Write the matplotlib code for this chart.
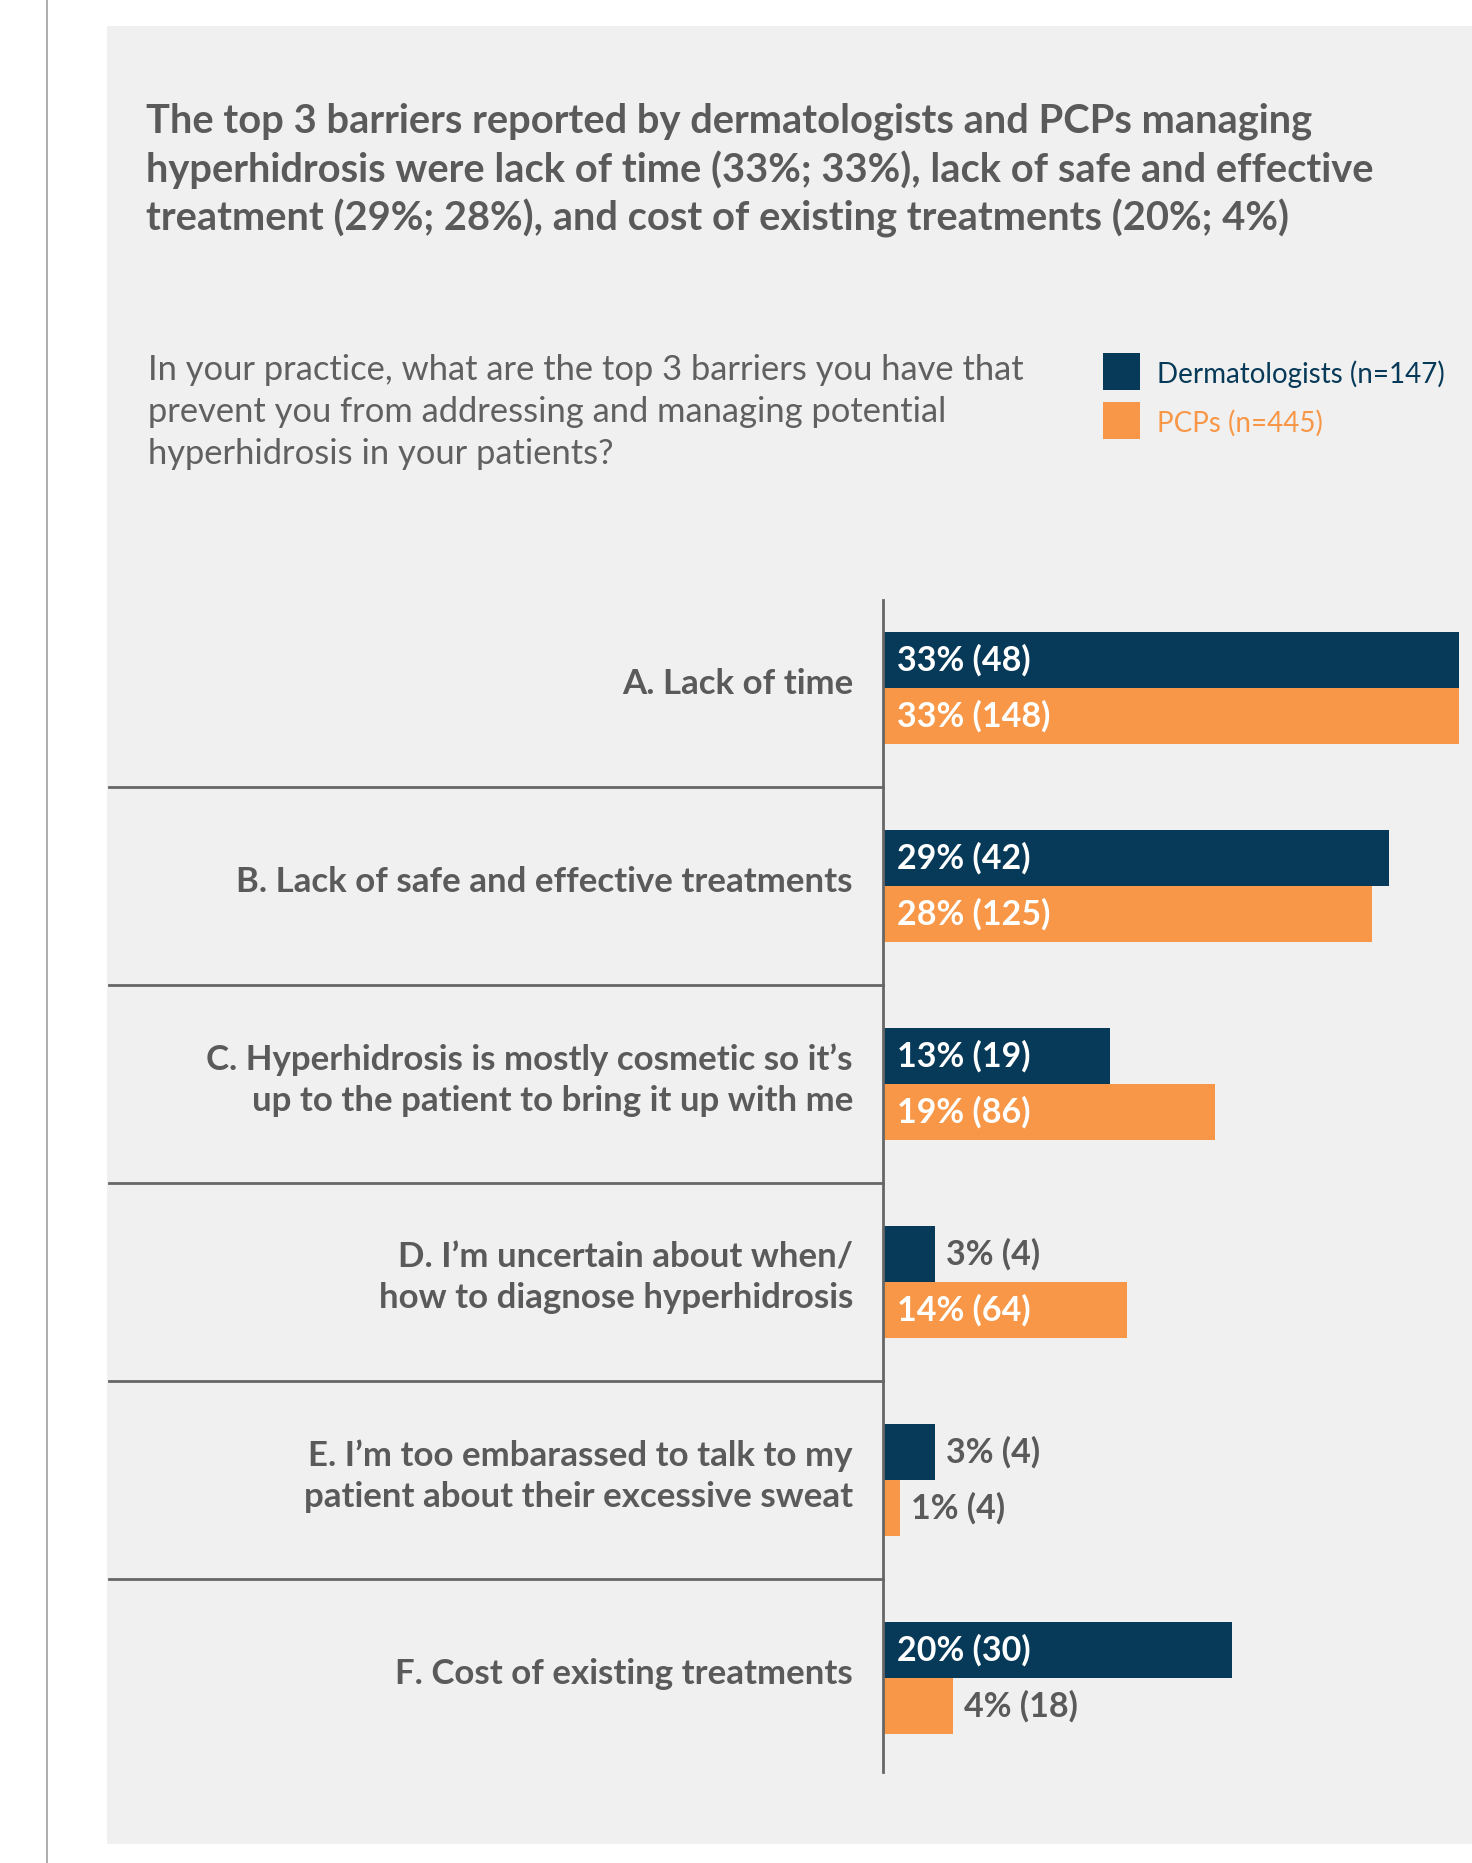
import matplotlib
matplotlib.use("Agg")
import matplotlib.pyplot as plt
from matplotlib.patches import Rectangle
import matplotlib.transforms as mtransforms

# ---- data ----
categories = [
    "A. Lack of time",
    "B. Lack of safe and effective treatments",
    "C. Hyperhidrosis is mostly cosmetic so it\u2019s\nup to the patient to bring it up with me",
    "D. I\u2019m uncertain about when/\nhow to diagnose hyperhidrosis",
    "E. I\u2019m too embarassed to talk to my\npatient about their excessive sweat",
    "F. Cost of existing treatments",
]
derm_pct = [33, 29, 13, 3, 3, 20]
derm_n = [48, 42, 19, 4, 4, 30]
pcp_pct = [33, 28, 19, 14, 1, 4]
pcp_n = [148, 125, 86, 64, 4, 18]
series_names = ["Dermatologists (n=147)", "PCPs (n=445)"]

title_lines = [
    "The top 3 barriers reported by dermatologists and PCPs managing",
    "hyperhidrosis were lack of time (33%; 33%), lack of safe and effective",
    "treatment (29%; 28%), and cost of existing treatments (20%; 4%)",
]
question_lines = [
    "In your practice, what are the top 3 barriers you have that",
    "prevent you from addressing and managing potential",
    "hyperhidrosis in your patients?",
]

NAVY = "#063A58"
ORANGE = "#F79747"
GRAY = "#5A5A5A"
PANEL = "#F0F0F0"
FONT = "Lato"

W, H = 1472, 1863
fig = plt.figure(figsize=(W / 100, H / 100), dpi=100)
fig.patch.set_facecolor("white")

def fx(px):
    return px / W

def fy(py):
    return 1 - py / H

# background panel and left rule
fig.add_artist(Rectangle((fx(107), fy(1844)), fx(W - 107), (1844 - 26) / H,
                         transform=fig.transFigure, facecolor=PANEL, edgecolor="none", zorder=0))
fig.add_artist(plt.Line2D([fx(47), fx(47)], [0, 1], transform=fig.transFigure,
                          color="#A0A0A0", lw=1.2, zorder=1))

# title
for i, line in enumerate(title_lines):
    fig.text(fx(146), fy(121 + 48.5 * i), line, fontsize=28.7, fontweight="bold",
             color=GRAY, family=FONT, va="center", ha="left")

# question
for i, line in enumerate(question_lines):
    fig.text(fx(148), fy(370 + 42 * i), line, fontsize=24.8, color="#606060",
             family=FONT, va="center", ha="left")

# legend
for i, (name, col) in enumerate(zip(series_names, [NAVY, ORANGE])):
    top = 353 + 49 * i
    fig.add_artist(Rectangle((fx(1103), fy(top + 37)), fx(37), 37 / H,
                             transform=fig.transFigure, facecolor=col, edgecolor="none"))
    fig.text(fx(1157), fy(top + 21), name, fontsize=20, color=col, family=FONT,
             va="center", ha="left")

# ---- bar axes ----
ax_left, ax_top, ax_bottom = 883, 600, 1772
ax = fig.add_axes([fx(ax_left), fy(ax_bottom), fx(W - ax_left), (ax_bottom - ax_top) / H])
ax.set_facecolor("none")
px_per_pct = 17.45
ax.set_xlim(0, (W - ax_left) / px_per_pct)
spacing = 198.0
first_center = 688.0
ax.set_ylim((ax_bottom - first_center) / spacing, (ax_top - first_center) / spacing)

ypos = list(range(len(categories)))
bh = 56.0 / spacing
ax.barh([y - bh / 2 for y in ypos], derm_pct, height=bh, color=NAVY, align="center", zorder=2)
ax.barh([y + bh / 2 for y in ypos], pcp_pct, height=bh, color=ORANGE, align="center", zorder=2)

for s in ["top", "right", "bottom"]:
    ax.spines[s].set_visible(False)
ax.spines["left"].set_color("#666666")
ax.spines["left"].set_linewidth(2)
ax.set_xticks([])
ax.set_yticks([])

trans_off = lambda dx: ax.transData + mtransforms.ScaledTranslation(dx / 100, 0, fig.dpi_scale_trans)

def value_label(y, pct, n):
    txt = f"{pct}% ({n})"
    if pct >= 10:
        ax.text(0, y, txt, transform=trans_off(14), color="white", fontsize=24.5,
                fontweight="bold", family=FONT, va="center", ha="left", zorder=3)
    else:
        ax.text(pct, y, txt, transform=trans_off(11), color=GRAY, fontsize=24.5,
                fontweight="bold", family=FONT, va="center", ha="left", zorder=3)

for y, dp, dn, pp, pn in zip(ypos, derm_pct, derm_n, pcp_pct, pcp_n):
    value_label(y - bh / 2, dp, dn)
    value_label(y + bh / 2, pp, pn)

# category labels and separators
blend = mtransforms.blended_transform_factory(ax.transAxes, ax.transData)
axw = W - ax_left
for y, cat in zip(ypos, categories):
    ax.text(-30 / axw, y - 0.02, cat, transform=blend, ha="right", va="center", fontsize=25.1,
            fontweight="bold", color=GRAY, family=FONT, linespacing=1.32)
for y in ypos[:-1]:
    ax.plot([(109 - ax_left) / axw, 0], [y + 0.5, y + 0.5], transform=blend, color="#666666",
            lw=2, clip_on=False)

fig.savefig("out.png", dpi=100, facecolor="white")
